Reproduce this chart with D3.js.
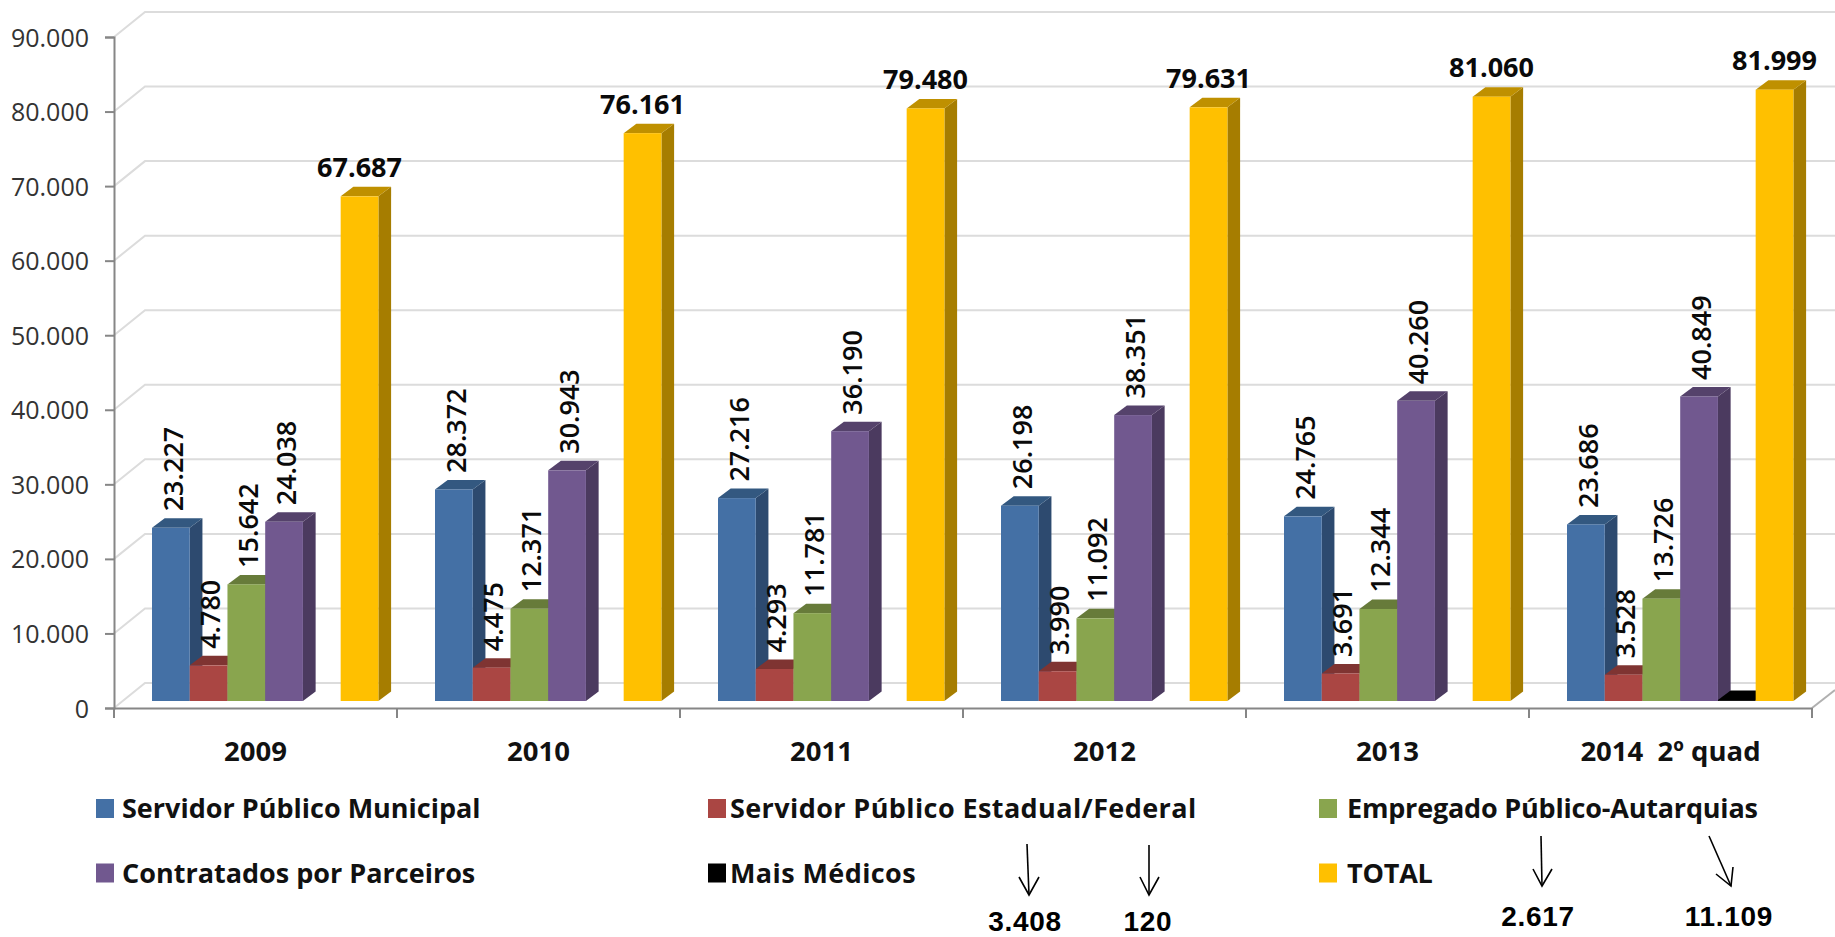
<!DOCTYPE html>
<html><head><meta charset="utf-8">
<script src="https://cdnjs.cloudflare.com/ajax/libs/d3/7.8.5/d3.min.js"></script>
<style>
html,body{margin:0;padding:0;background:#fff;overflow:hidden}
text{font-family:"Open Sans",sans-serif;white-space:pre}
</style></head><body><svg id="c" width="1835" height="937"></svg>
<script>
const categories=["2009","2010","2011","2012","2013","2014  2º quad"];
const seriesNames=["Servidor Público Municipal","Servidor Público Estadual/Federal","Empregado Público-Autarquias","Contratados por Parceiros","Mais Médicos","TOTAL"];
const municipal=[23227,28372,27216,26198,24765,23686];
const estadual=[4780,4475,4293,3990,3691,3528];
const empregado=[15642,12371,11781,11092,12344,13726];
const parceiros=[24038,30943,36190,38351,40260,40849];
const maisMedicos=[null,null,null,null,null,120];
const total=[67687,76161,79480,79631,81060,81999];
const yTicks=[0,10000,20000,30000,40000,50000,60000,70000,80000,90000];
const annotations=[
 {label:"3.408",from:[1027,844],to:[1029,895],w1:[1019,877],w2:[1039,877],tx:1025,ty:931},
 {label:"120",from:[1149,845],to:[1149,895],w1:[1140,877],w2:[1159,877],tx:1148,ty:931},
 {label:"2.617",from:[1541,836],to:[1542,886],w1:[1533,869],w2:[1552,869],tx:1538,ty:926},
 {label:"11.109",from:[1709,836],to:[1731,886],w1:[1716,874],w2:[1733,867],tx:1729,ty:926}
];
const values=[municipal,estadual,empregado,parceiros,maisMedicos,total];
const colors=[
 {front:"#4470A5",side:"#2D4A6F",top:"#335880"},
 {front:"#AA4643",side:"#733130",top:"#7F3432"},
 {front:"#89A54E",side:"#5C6F35",top:"#677B3A"},
 {front:"#71588F",side:"#4B3A5F",top:"#55426B"},
 {front:"#000000",side:"#000000",top:"#000000"},
 {front:"#FFC000",side:"#A67D00",top:"#BF9000"}
];
const fmt=d3.formatLocale({decimal:",",thousands:".",grouping:[3],currency:["",""]}).format(",");
const svg=d3.select("#c");
const y0=708,y90=37,xL=114,xR=1812;
const wallDx=31,wallDy=25,barDx=12.7,barDy=9.5;
const y=d3.scaleLinear().domain([0,90000]).range([y0,y90]);
const x=d3.scaleBand().domain(categories).range([xL,xR]);
const inner=d3.scaleBand().domain(d3.range(6)).range([38,264.4]);
const barBase=701;
const h=v=>y0-y(v);

// walls
const grid=svg.append("g").attr("stroke","#dcdcdc").attr("stroke-width",2).attr("fill","none");
yTicks.forEach(t=>{
  grid.append("path").attr("d",`M${xL},${y(t)}L${xL+wallDx},${y(t)-wallDy}L1835,${y(t)-wallDy}`);
});
svg.append("line").attr("x1",xR).attr("y1",y0).attr("x2",1835).attr("y2",y0-18).attr("stroke","#b0b0b0").attr("stroke-width",2);

// axes
const ay=svg.append("g").attr("transform",`translate(${xL},0)`).call(d3.axisLeft(y).tickValues(yTicks).tickSize(9).tickPadding(16).tickFormat(fmt));
ay.selectAll("path,line").attr("stroke","#868686").attr("stroke-width",2);
ay.selectAll("text").attr("font-size",25).attr("fill","#333").attr("dy","0.36em").style("font-family",'"Open Sans"');
const ax=svg.append("g").attr("transform",`translate(0,${y0})`).call(d3.axisBottom(x).tickSize(0).tickPadding(0));
ax.selectAll("path").attr("stroke","#868686").attr("stroke-width",2);
ax.selectAll("text").remove();
ax.selectAll(".bt").data(d3.range(7)).join("line").attr("class","bt")
  .attr("x1",i=>xL+i*x.bandwidth()).attr("x2",i=>xL+i*x.bandwidth()).attr("y1",0).attr("y2",10)
  .attr("stroke","#868686").attr("stroke-width",2);
svg.append("g").selectAll("text").data(categories).join("text")
  .attr("x",d=>x(d)+x.bandwidth()/2).attr("y",761).attr("text-anchor","middle")
  .attr("font-size",27.5).attr("font-weight",700).attr("fill","#111").text(d=>d);

// bars
const bars=svg.append("g");
const labels=svg.append("g");
categories.forEach((c,ci)=>{
  values.forEach((vals,si)=>{
    const v=vals[ci]; if(v==null) return;
    const bw=inner.bandwidth(), x0=x(c)+inner(si), t=barBase-h(v), col=colors[si];
    bars.append("path").attr("fill",col.side).attr("d",`M${x0+bw},${barBase}L${x0+bw+barDx},${barBase-barDy}L${x0+bw+barDx},${t-barDy}L${x0+bw},${t}Z`);
    bars.append("path").attr("fill",col.top).attr("d",`M${x0},${t}L${x0+barDx},${t-barDy}L${x0+bw+barDx},${t-barDy}L${x0+bw},${t}Z`);
    bars.append("rect").attr("x",x0).attr("y",t).attr("width",bw).attr("height",h(v)).attr("fill",col.front);
    if(si===4) return;
    if(si===5){
      labels.append("text").attr("x",x0+bw/2).attr("y",t-barDy-10).attr("text-anchor","middle")
        .attr("font-size",27).attr("font-weight",700).attr("fill","#0a0a0a").text(fmt(v));
    }else{
      const cx=x0+bw/2+2, by=t-barDy-7;
      labels.append("text").attr("transform",`translate(${cx},${by}) rotate(-90)`).attr("dy","0.36em")
        .attr("font-size",27).attr("font-weight",600).attr("fill","#0a0a0a").text(fmt(v));
    }
  });
});

// legend
const legendX=[96,708,1319],legendTx=[122,730,1347],legendY=[808.5,873],legendSpacing=[0,0.4,-0.2];
const leg=svg.append("g");
seriesNames.forEach((n,i)=>{
  const col=i%3,row=i<3?0:1;
  leg.append("rect").attr("x",legendX[col]).attr("y",legendY[row]-9.5).attr("width",18).attr("height",19).attr("fill",colors[i].front);
  leg.append("text").attr("x",legendTx[col]).attr("y",legendY[row]+9.5).attr("letter-spacing",legendSpacing[col])
    .attr("font-size",27).attr("font-weight",700).attr("fill","#111").text(n);
});

// annotations
const ann=svg.append("g");
const line=d3.line();
annotations.forEach(a=>{
  ann.append("path").attr("d",line([a.from,a.to])).attr("stroke","#000").attr("stroke-width",1.6).attr("fill","none");
  ann.append("path").attr("d",line([a.w1,a.to,a.w2])).attr("stroke","#000").attr("stroke-width",1.6).attr("fill","none");
  ann.append("text").attr("x",a.tx).attr("y",a.ty).attr("text-anchor","middle").attr("font-size",28).attr("letter-spacing",0.7).attr("font-weight",700)
    .style("font-family",'"Liberation Sans"').attr("fill","#000").text(a.label);
});
</script></body></html>
